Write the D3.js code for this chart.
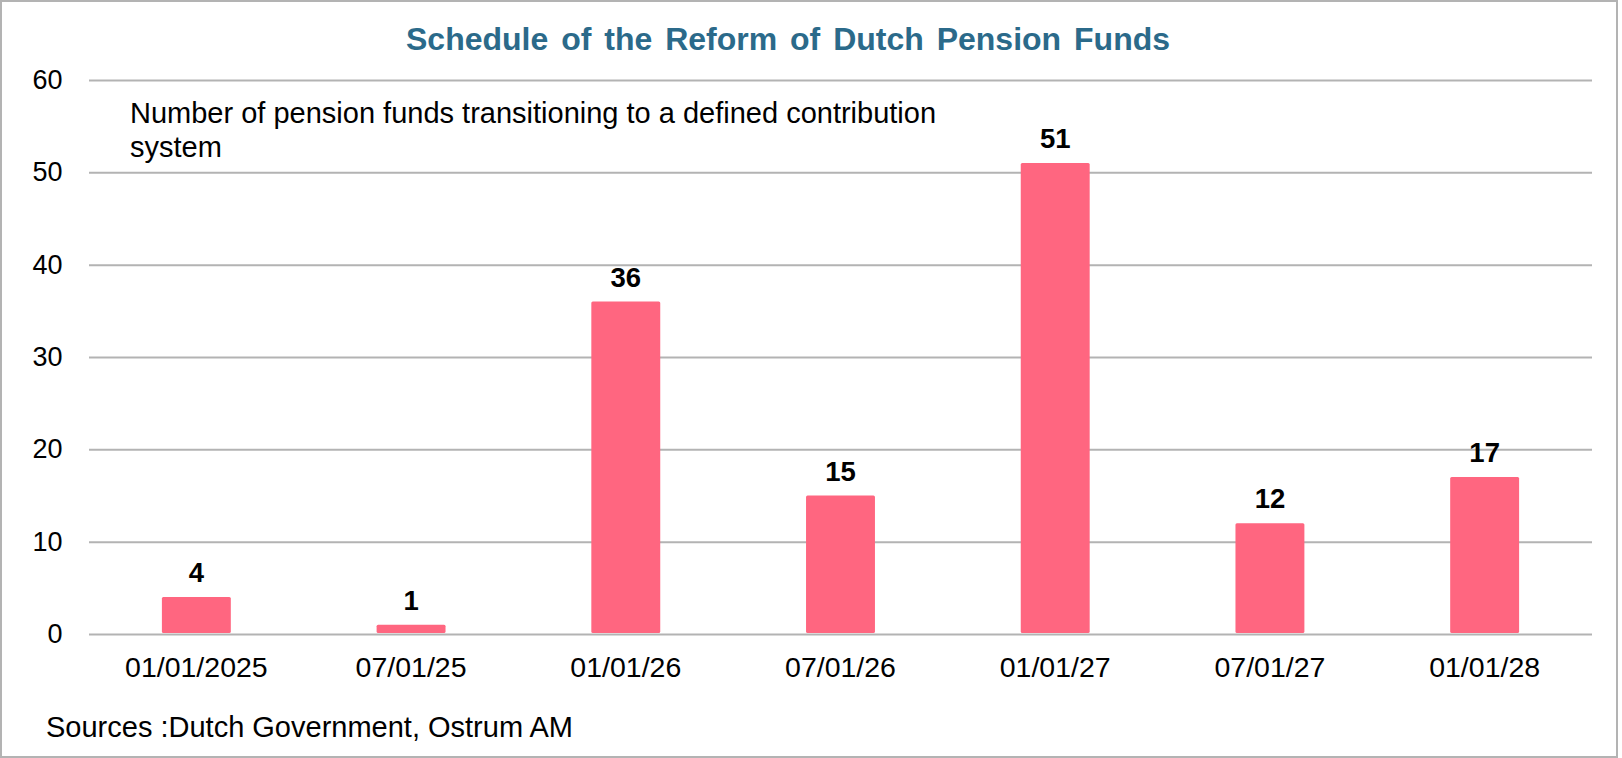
<!DOCTYPE html>
<html>
<head>
<meta charset="utf-8">
<script src="https://cdn.jsdelivr.net/npm/d3@7"></script>
<style>
  html, body { margin: 0; padding: 0; background: #fff; }
  svg { display: block; }
  text { font-family: "Liberation Sans", Arial, sans-serif; }
</style>
</head>
<body>
<svg id="chart" width="1622" height="758"></svg>
<script>
const categories = ["01/01/2025", "07/01/25", "01/01/26", "07/01/26", "01/01/27", "07/01/27", "01/01/28"];
const values = [4, 1, 36, 15, 51, 12, 17];
const yTicks = [0, 10, 20, 30, 40, 50, 60];
const title = "Schedule of the Reform of Dutch Pension Funds";
const subtitleLines = ["Number of pension funds transitioning to a defined contribution", "system"];
const source = "Sources :Dutch Government, Ostrum AM";

const W = 1622, H = 758;
const svg = d3.select("#chart");

// frame
svg.append("rect")
  .attr("x", 1).attr("y", 1).attr("width", 1616).attr("height", 756)
  .attr("fill", "#fff").attr("stroke", "#b3b3b3").attr("stroke-width", 2);

const plotLeft = 89, plotRight = 1592, plotTop = 80, plotBottom = 634;

const x = d3.scaleBand().domain(categories).range([plotLeft, plotRight])
  .paddingInner(0.679).paddingOuter(0.3395);
const y = d3.scaleLinear().domain([0, 60]).range([plotBottom, plotTop]);

// gridlines
const yAxis = d3.axisLeft(y).tickValues(yTicks).tickSize(-(plotRight - plotLeft)).tickPadding(26.5);
const gy = svg.append("g").attr("transform", `translate(${plotLeft},0)`).call(yAxis);
gy.select(".domain").remove();
gy.selectAll(".tick line").attr("stroke", "#b3b3b3").attr("stroke-width", 2);
gy.selectAll(".tick text")
  .attr("font-size", 27).attr("fill", "#000")
  .attr("font-family", "'Liberation Sans', Arial, sans-serif");

// bars
svg.append("g").selectAll("rect").data(values).join("rect")
  .attr("x", (d, i) => x(categories[i]))
  .attr("width", x.bandwidth())
  .attr("y", d => y(d))
  .attr("height", d => y(0) - y(d) - 1)
  .attr("rx", 1.5)
  .attr("fill", "#ff6680");

// value labels
svg.append("g").selectAll("text").data(values).join("text")
  .attr("x", (d, i) => x(categories[i]) + x.bandwidth() / 2)
  .attr("y", d => y(d) - 15)
  .attr("text-anchor", "middle")
  .attr("font-size", 27.5).attr("font-weight", "bold").attr("fill", "#000")
  .text(d => d);

// x axis labels
const xAxis = d3.axisBottom(x).tickSize(0).tickPadding(22.5);
const gx = svg.append("g").attr("transform", `translate(0,${plotBottom})`).call(xAxis);
gx.select(".domain").remove();
gx.selectAll(".tick text")
  .attr("font-size", 28.5).attr("fill", "#000")
  .attr("font-family", "'Liberation Sans', Arial, sans-serif");

// title
svg.append("text")
  .attr("x", 788).attr("y", 50)
  .attr("text-anchor", "middle")
  .attr("font-size", 32).attr("font-weight", "bold")
  .attr("word-spacing", 4)
  .attr("fill", "#2b6a8a")
  .text(title);

// subtitle
svg.append("g").selectAll("text").data(subtitleLines).join("text")
  .attr("x", 130).attr("y", (d, i) => 122.5 + i * 34)
  .attr("font-size", 29).attr("fill", "#000")
  .text(d => d);

// source
svg.append("text")
  .attr("x", 46).attr("y", 737)
  .attr("font-size", 29).attr("fill", "#000")
  .text(source);
</script>
</body>
</html>
